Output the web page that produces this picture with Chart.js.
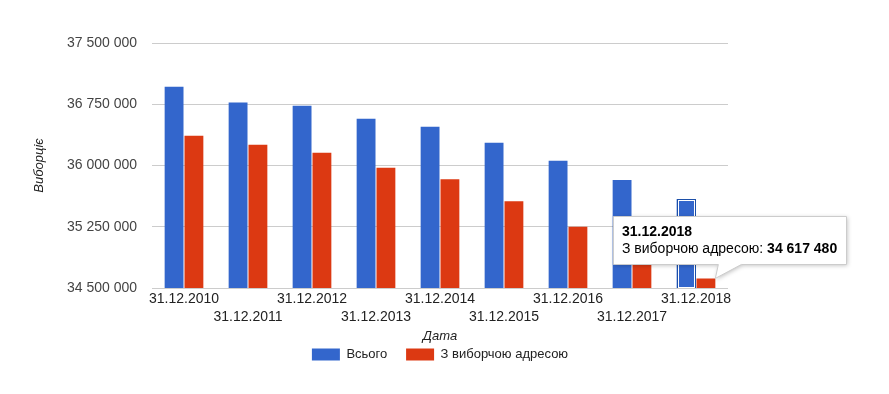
<!DOCTYPE html>
<html>
<head>
<meta charset="utf-8">
<script src="https://cdn.jsdelivr.net/npm/chart.js@4.4.0/dist/chart.umd.min.js"></script>
<style>
  html, body { margin: 0; padding: 0; background: #fff; }
  #wrap { width: 889px; height: 394px; position: relative; }
</style>
</head>
<body>
<div id="wrap"><canvas id="graph" width="889" height="394"></canvas></div>
<script>
const dates = ["31.12.2010", "31.12.2011", "31.12.2012", "31.12.2013", "31.12.2014",
  "31.12.2015", "31.12.2016", "31.12.2017", "31.12.2018"];
const totalVoters = [36965000, 36770000, 36732000, 36573000, 36475000, 36279000, 36059000, 35822000, 35590000];
const withAddress = [36365000, 36255000, 36157000, 35973000, 35831000, 35561000, 35251000, 34950000, 34617480];
const yTicks = [34500000, 35250000, 36000000, 36750000, 37500000];

const FONT = "'Liberation Sans', Arial, sans-serif";
const fmt = v => String(Math.round(v)).replace(/\B(?=(\d{3})+(?!\d))/g, " ");

// legend is centred under the plot area, not the whole canvas
const legendShift = {
  id: "legendShift",
  beforeDraw(chart) {
    const lg = chart.legend;
    const ca = chart.chartArea;
    const dx = (ca.left + ca.right) / 2 - (lg.left + lg.right) / 2;
    lg.left += dx;
    lg.right += dx;
  }
};

// google-style tooltip on the last red bar + focus outline on the blue one
const tipPlugin = {
  id: "tip",
  afterDatasetsDraw(chart) {
    const ctx = chart.ctx;
    const b = chart.getDatasetMeta(0).data[8];
    const base = chart.scales.y.getPixelForValue(yTicks[0]);
    const x0 = Math.round(b.x - b.width / 2), y0 = Math.round(b.y);
    const w = Math.round(b.width), h = Math.round(base - b.y);
    ctx.save();
    ctx.lineWidth = 1;
    ctx.strokeStyle = "#1c4fa8";
    ctx.strokeRect(x0 + 0.5, y0 + 0.5, w - 1, h - 1);
    ctx.strokeStyle = "#fff";
    ctx.strokeRect(x0 + 1.5, y0 + 1.5, w - 3, h - 2);
    ctx.restore();
  },
  afterDraw(chart) {
    const ctx = chart.ctx;
    const el = chart.getDatasetMeta(1).data[8];
    const right = el.x + el.width / 2;
    const left = 613.5, top = 216.5, w = 233, h = 48;
    const bottom = top + h;
    ctx.save();
    ctx.shadowColor = "rgba(0,0,0,0.25)";
    ctx.shadowBlur = 4;
    ctx.shadowOffsetX = 1;
    ctx.shadowOffsetY = 1;
    ctx.beginPath();
    ctx.moveTo(left, top);
    ctx.lineTo(left + w, top);
    ctx.lineTo(left + w, bottom);
    ctx.lineTo(right + 26, bottom);
    ctx.lineTo(right, el.y);
    ctx.lineTo(right + 3, bottom);
    ctx.lineTo(left, bottom);
    ctx.closePath();
    ctx.fillStyle = "#fff";
    ctx.fill();
    ctx.shadowColor = "transparent";
    ctx.strokeStyle = "#cccccc";
    ctx.lineWidth = 1;
    ctx.stroke();
    ctx.fillStyle = "#000";
    ctx.textBaseline = "alphabetic";
    ctx.font = "bold 14px " + FONT;
    ctx.fillText(dates[8], left + 8.5, top + 19.5);
    ctx.font = "14px " + FONT;
    const lbl = "З виборчою адресою: ";
    ctx.fillText(lbl, left + 8.5, top + 36);
    const lw = ctx.measureText(lbl).width;
    ctx.font = "bold 14px " + FONT;
    ctx.fillText(fmt(withAddress[8]), left + 8.5 + lw, top + 36);
    ctx.restore();
  }
};

new Chart(document.getElementById("graph"), {
  type: "bar",
  data: {
    labels: dates,
    datasets: [
      { label: "Всього", data: totalVoters, backgroundColor: "#3366cc",
        barPercentage: 0.95, categoryPercentage: 0.62 },
      { label: "З виборчою адресою", data: withAddress, backgroundColor: "#dc3912",
        barPercentage: 0.95, categoryPercentage: 0.62 }
    ]
  },
  options: {
    responsive: false,
    animation: false,
    events: [],
    layout: { padding: { top: 43, right: 161, bottom: 23, left: 0 } },
    plugins: {
      tooltip: { enabled: false },
      legend: {
        position: "bottom",
        labels: {
          font: { family: FONT, size: 13 },
          color: "#222",
          boxWidth: 28,
          boxHeight: 12,
          padding: 8,
          generateLabels: chart => {
            const items = Chart.defaults.plugins.legend.labels.generateLabels(chart);
            items[0].text += "   ";
            return items;
          }
        }
      }
    },
    scales: {
      y: {
        min: 34500000,
        max: 37500000,
        afterBuildTicks: s => { s.ticks = yTicks.map(v => ({ value: v })); },
        afterFit: s => { s.width = 152; },
        border: { display: false },
        grid: { color: "#cccccc", drawTicks: false },
        ticks: {
          padding: 15,
          color: "#444",
          font: { family: FONT, size: 14 },
          callback: v => fmt(v)
        },
        title: {
          display: true,
          text: "Виборціє",
          color: "#222",
          font: { family: FONT, size: 13, style: "italic" },
          padding: { top: 32, bottom: 0 }
        }
      },
      x: {
        border: { display: false },
        grid: { display: false, drawTicks: false },
        afterFit: s => { s.height = 52; },
        ticks: {
          padding: 2,
          color: "#222",
          maxRotation: 0,
          autoSkip: false,
          font: { family: FONT, size: 14, lineHeight: 1.3 },
          callback: function (v, i) {
            const l = this.getLabelForValue(v);
            return i % 2 ? ["", l] : [l];
          }
        },
        title: {
          display: true,
          text: "Дата",
          color: "#222",
          font: { family: FONT, size: 13, style: "italic" },
          padding: { top: 0, bottom: -4 }
        }
      }
    }
  },
  plugins: [legendShift, tipPlugin]
});
</script>
</body>
</html>
